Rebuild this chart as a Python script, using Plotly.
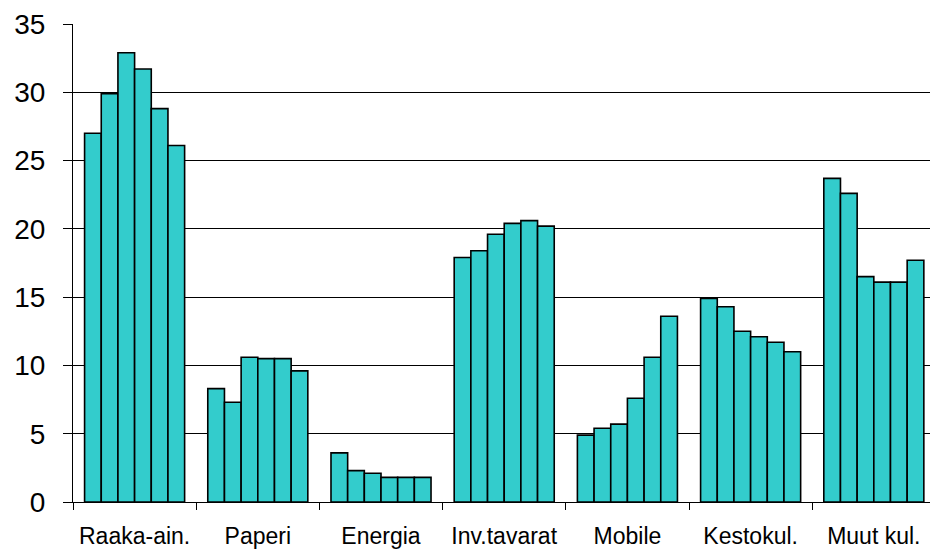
import plotly.graph_objects as go

# Categories along the x axis
categories = ["Raaka-ain.", "Paperi", "Energia", "Inv.tavarat", "Mobile", "Kestokul.", "Muut kul."]

# Six series per category (one bar each, drawn side by side)
series_1 = [27.0, 8.3, 3.6, 17.9, 4.9, 14.9, 23.7]
series_2 = [29.9, 7.3, 2.3, 18.4, 5.4, 14.3, 22.6]
series_3 = [32.9, 10.6, 2.1, 19.6, 5.7, 12.5, 16.5]
series_4 = [31.7, 10.5, 1.8, 20.4, 7.6, 12.1, 16.1]
series_5 = [28.8, 10.5, 1.8, 20.6, 10.6, 11.7, 16.1]
series_6 = [26.1, 9.6, 1.8, 20.2, 13.6, 11.0, 17.7]

series_list = [series_1, series_2, series_3, series_4, series_5, series_6]

y_ticks = [0, 5, 10, 15, 20, 25, 30, 35]

fig = go.Figure()
for i, values in enumerate(series_list):
    fig.add_trace(go.Bar(
        x=categories,
        y=values,
        name=f"Sarja {i + 1}",
        marker=dict(color="#33CCCC", line=dict(color="black", width=1.6)),
        showlegend=False,
    ))

fig.update_layout(
    width=930,
    height=550,
    margin=dict(l=73, r=0, t=24, b=48),
    paper_bgcolor="white",
    plot_bgcolor="white",
    barmode="group",
    bargap=0.188,
    bargroupgap=0,
    font=dict(family="Liberation Sans, Arial, sans-serif", color="black"),
)

fig.update_xaxes(
    type="category",
    range=[-0.5, 6.456],
    showline=True,
    linecolor="black",
    linewidth=1,
    ticks="outside",
    tickson="boundaries",
    ticklen=7,
    tickcolor="black",
    tickwidth=1,
    tickfont=dict(size=23),
    ticklabelstandoff=13,
    showgrid=False,
)

fig.update_yaxes(
    range=[0, 35],
    tickvals=y_ticks,
    showline=True,
    linecolor="black",
    linewidth=1,
    ticks="outside",
    ticklen=9,
    tickcolor="black",
    tickwidth=1,
    tickfont=dict(size=28),
    ticklabelstandoff=12,
    showgrid=True,
    gridcolor="black",
    gridwidth=1,
    zeroline=False,
)

fig.write_html("out.html")
